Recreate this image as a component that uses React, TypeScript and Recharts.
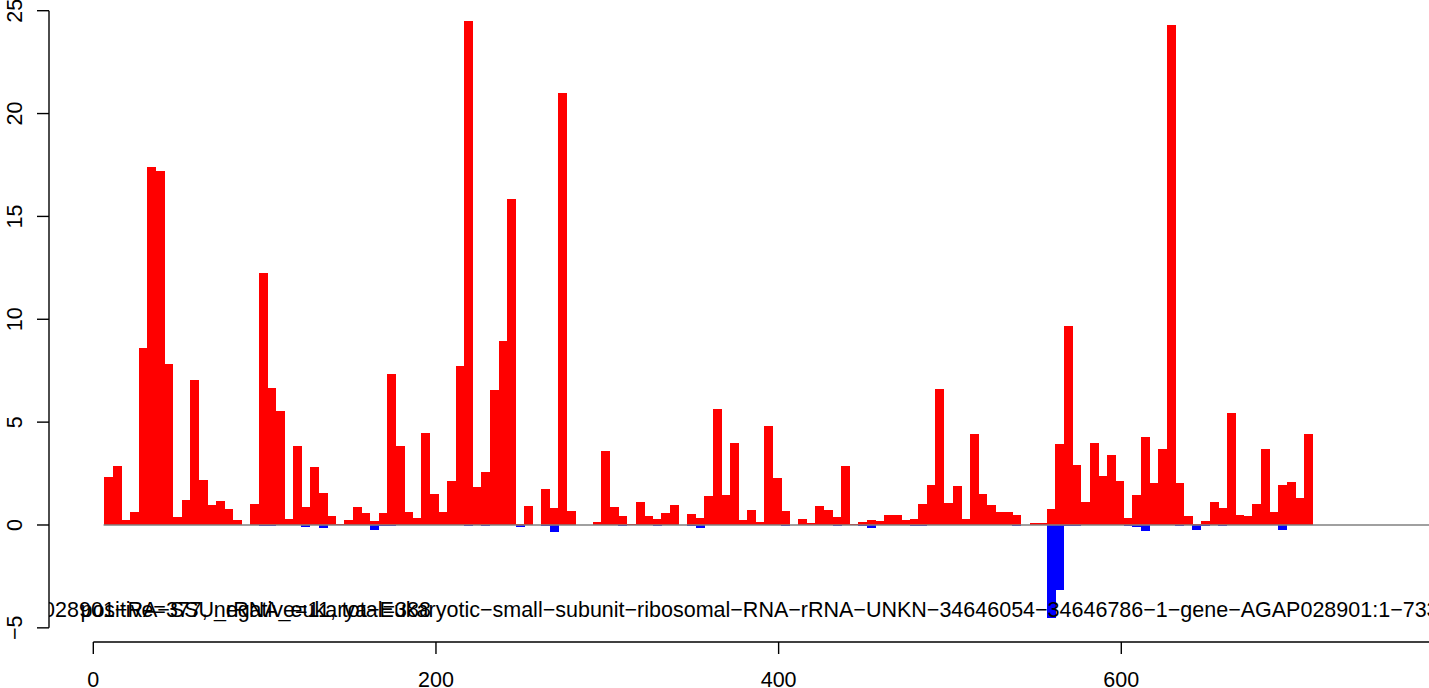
import React from 'react';
import { ComposedChart, Bar, XAxis, YAxis, ReferenceLine, ReferenceDot } from 'recharts';

// bin centres along the sequence
const binCenters = [
  9, 14, 19, 24, 29, 34, 39, 44, 49, 54, 59, 64, 69, 74, 79, 84, 89, 94, 99, 104,
  109, 114, 119, 124, 129, 134, 139, 144, 149, 154, 159, 164, 169, 174, 179, 184, 189, 194, 199, 204,
  209, 214, 219, 224, 229, 234, 239, 244, 249, 254, 259, 264, 269, 274, 279, 284, 289, 294, 299, 304,
  309, 314, 319, 324, 329, 334, 339, 344, 349, 354, 359, 364, 369, 374, 379, 384, 389, 394, 399, 404,
  409, 414, 419, 424, 429, 434, 439, 444, 449, 454, 459, 464, 469, 474, 479, 484, 489, 494, 499, 504,
  509, 514, 519, 524, 529, 534, 539, 544, 549, 554, 559, 564, 569, 574, 579, 584, 589, 594, 599, 604,
  609, 614, 619, 624, 629, 634, 639, 644, 649, 654, 659, 664, 669, 674, 679, 684, 689, 694, 699, 704,
  709,
];

const positiveValues = [
  2.34, 2.88, 0.25, 0.64, 8.62, 17.4, 17.2, 7.83, 0.37, 1.22, 7.06, 2.21, 0.99, 1.17, 0.79, 0.25, 0, 1.04, 12.25, 6.66,
  5.56, 0.3, 3.85, 0.89, 2.83, 1.56, 0.45, 0.05, 0.25, 0.89, 0.59, 0.2, 0.59, 7.35, 3.85, 0.64, 0.35, 4.48, 1.52, 0.64,
  2.14, 7.73, 24.5, 1.86, 2.58, 6.58, 8.95, 15.85, 0.05, 0.94, 0, 1.76, 0.84, 21.0, 0.69, 0, 0, 0.15, 3.6, 0.89,
  0.45, 0.05, 1.12, 0.45, 0.3, 0.59, 0.99, 0, 0.54, 0.35, 1.42, 5.64, 1.47, 4.0, 0.25, 0.74, 0.15, 4.82, 2.29, 0.69,
  0, 0.3, 0.1, 0.94, 0.74, 0.4, 2.88, 0.05, 0.16, 0.24, 0.18, 0.47, 0.47, 0.23, 0.28, 1.0, 1.93, 6.61, 1.05, 1.88,
  0.28, 4.42, 1.49, 0.96, 0.62, 0.62, 0.47, 0, 0.08, 0.08, 0.79, 3.94, 9.65, 2.93, 1.13, 4.0, 2.4, 3.41, 2.16, 0.36,
  1.47, 4.28, 2.06, 3.67, 24.3, 2.06, 0.44, 0.06, 0.2, 1.13, 0.83, 5.45, 0.5, 0.46, 1.03, 3.71, 0.65, 1.96, 2.1, 1.33,
  4.44,
];

const negativeValues = [
  0, 0, 0, 0, 0, 0, 0, 0, 0, 0, 0, 0, 0, 0, 0, 0, 0, 0, -0.05, -0.05,
  0, 0, 0, -0.12, 0, -0.17, 0, 0, 0, 0, 0, -0.22, -0.07, -0.07, 0, 0, 0, 0, 0, 0,
  0, 0, -0.05, 0, -0.03, 0, 0, 0, -0.08, 0, 0, -0.03, -0.33, 0, 0, 0, 0, 0, 0, 0,
  -0.03, 0, 0, 0, -0.07, 0, 0, 0, -0.03, -0.17, 0, 0, 0, 0, 0, 0, 0, 0, 0, -0.03,
  0, 0, 0, 0, 0, -0.03, 0, 0, -0.03, -0.16, 0, 0, 0, 0, -0.06, -0.03, 0, 0, 0, 0,
  0, 0, 0, 0, 0, 0, -0.03, 0, 0, 0, -4.54, -3.17, -0.06, -0.04, 0, 0, 0, 0, 0, -0.06,
  -0.12, -0.28, 0, 0, 0, -0.06, 0, -0.22, -0.06, 0, -0.04, 0, 0, 0, 0, 0, 0, -0.26, 0, 0,
  0,
];

const xTicks = [0, 200, 400, 600];
const yTicks = [-5, 0, 5, 10, 15, 20, 25];

const titleText =
  'AGAP028901\u2212RA\u2212SSU_rRNA_eukarya\u2212Eukaryotic\u2212small\u2212subunit\u2212ribosomal\u2212RNA\u2212rRNA\u2212UNKN\u221234646054\u221234646786\u22121\u2212gene\u2212AGAP028901:1\u2212733';
const countText = 'positive=377, negative=11, total=388';
const titleX = 360.5;
const countX = -7.5;
const textY = -4;

const data = binCenters.map((x, i) => ({ x, pos: positiveValues[i], neg: negativeValues[i] }));

const FONT = '"Liberation Sans", Arimo, Arial, Helvetica, sans-serif';
const FS = 21.5;

const W = 1429;
const H = 688;
const PLOT_LEFT = 49;
const PLOT_BOTTOM = 642;

const fmt = (v: number) => (v < 0 ? '\u2212' + Math.abs(v) : String(v));

const YTick = (props: any) => {
  const { y, payload } = props;
  const cx = 21.7;
  return (
    <text
      x={cx}
      y={y}
      transform={`rotate(-90 ${cx} ${y})`}
      textAnchor="middle"
      fill="#000"
      fontSize={FS}
      fontFamily={FONT}
    >
      {fmt(payload.value)}
    </text>
  );
};

const makeLabel = (text: string, anchor: 'start' | 'middle', clipId: string) => (p: any) => {
  const vb = p && p.viewBox ? p.viewBox : { x: 0, y: 0 };
  return (
    <g>
      <defs>
        <clipPath id={clipId}>
          <rect x={PLOT_LEFT} y={0} width={W - PLOT_LEFT} height={PLOT_BOTTOM} />
        </clipPath>
      </defs>
      <text
        x={vb.x}
        y={vb.y}
        dy={9.7}
        textAnchor={anchor}
        fill="#000"
        fontSize={FS}
        fontFamily={FONT}
        clipPath={`url(#${clipId})`}
      >
        {text}
      </text>
    </g>
  );
};

export default function App() {
  return (
    <div style={{ position: 'absolute', left: 0, top: 0, width: W, height: H, background: '#fff' }}>
      <style>{`.recharts-bar-rectangle path{shape-rendering:crispEdges}`}</style>
      <ComposedChart
        width={W}
        height={H}
        data={data}
        margin={{ top: 0, right: 0, bottom: 0, left: 0 }}
        stackOffset="sign"
        barCategoryGap={0}
        barGap={0}
      >
        <XAxis
          dataKey="x"
          type="number"
          domain={[-25.86, 779.6]}
          allowDataOverflow
          ticks={xTicks}
          interval={0}
          axisLine={false}
          tickLine={{ stroke: '#000', strokeWidth: 1.4 }}
          tickSize={12}
          tickMargin={18}
          height={H - PLOT_BOTTOM}
          tick={{ fill: '#000', fontSize: FS, fontFamily: FONT }}
        />
        <YAxis
          type="number"
          domain={[-5.688, 25.52]}
          allowDataOverflow
          ticks={yTicks}
          interval={0}
          axisLine={false}
          tickLine={{ stroke: '#000', strokeWidth: 1.4 }}
          tickSize={12}
          width={PLOT_LEFT}
          tick={<YTick />}
        />
        <ReferenceLine
          segment={[{ x: 6, y: 0 }, { x: 800, y: 0 }]}
          stroke="#808080"
          strokeWidth={1.4}
          ifOverflow="visible"
        />
        <Bar dataKey="pos" stackId="s" fill="#FF0000" isAnimationActive={false} />
        <Bar dataKey="neg" stackId="s" fill="#0000FF" isAnimationActive={false} />
        <ReferenceLine
          segment={[{ x: -25.86, y: -5 }, { x: -25.86, y: 25 }]}
          stroke="#000"
          strokeWidth={1.4}
          ifOverflow="visible"
        />
        <ReferenceLine
          segment={[{ x: 0, y: -5.688 }, { x: 800, y: -5.688 }]}
          stroke="#000"
          strokeWidth={1.4}
          ifOverflow="visible"
        />
        <ReferenceDot x={titleX} y={textY} r={0} ifOverflow="visible" fill="none" stroke="none" label={makeLabel(titleText, 'middle', 'titleClip')} />
        <ReferenceDot x={countX} y={textY} r={0} ifOverflow="visible" fill="none" stroke="none" label={makeLabel(countText, 'start', 'countClip')} />
      </ComposedChart>
    </div>
  );
}
